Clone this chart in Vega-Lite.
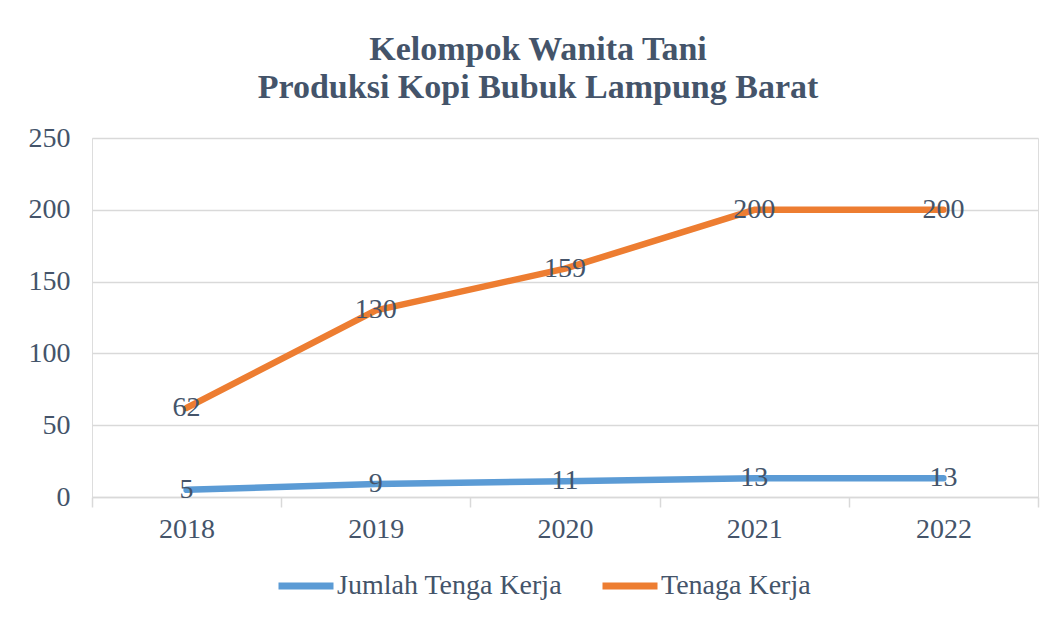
{
  "$schema": "https://vega.github.io/schema/vega-lite/v6.json",
  "width": 946,
  "height": 359,
  "autosize": "none",
  "padding": {"left": 92, "top": 138, "right": 20, "bottom": 122},
  "background": "white",
  "title": {
    "text": ["Kelompok Wanita Tani", "Produksi Kopi Bubuk Lampung Barat"],
    "font": "Liberation Serif",
    "fontSize": 34,
    "fontWeight": "bold",
    "color": "#44546A",
    "anchor": "middle",
    "dx": -27,
    "offset": 19,
    "lineHeight": 38
  },
  "data": {
    "values": [
      {"year": "2018", "series": "Jumlah Tenga Kerja", "value": 5},
      {"year": "2019", "series": "Jumlah Tenga Kerja", "value": 9},
      {"year": "2020", "series": "Jumlah Tenga Kerja", "value": 11},
      {"year": "2021", "series": "Jumlah Tenga Kerja", "value": 13},
      {"year": "2022", "series": "Jumlah Tenga Kerja", "value": 13},
      {"year": "2018", "series": "Tenaga Kerja", "value": 62},
      {"year": "2019", "series": "Tenaga Kerja", "value": 130},
      {"year": "2020", "series": "Tenaga Kerja", "value": 159},
      {"year": "2021", "series": "Tenaga Kerja", "value": 200},
      {"year": "2022", "series": "Tenaga Kerja", "value": 200}
    ]
  },
  "encoding": {
    "x": {
      "field": "year",
      "type": "ordinal",
      "bandPosition": 0.5,
      "scale": {"type": "band", "paddingInner": 0, "paddingOuter": 0},
      "axis": {
        "title": null,
        "labelAngle": 0,
        "domainColor": "#D9D9D9",
        "domainWidth": 1.5,
        "tickColor": "#D9D9D9",
        "tickWidth": 1.5,
        "tickSize": 10,
        "tickBand": "extent",
        "grid": false,
        "labelFont": "Liberation Serif",
        "labelFontSize": 28,
        "labelColor": "#44546A",
        "labelPadding": 8
      }
    },
    "y": {
      "field": "value",
      "type": "quantitative",
      "scale": {"domain": [0, 250], "nice": false},
      "axis": {
        "title": null,
        "values": [0, 50, 100, 150, 200, 250],
        "domain": false,
        "ticks": false,
        "gridColor": "#D9D9D9",
        "gridWidth": 1.5,
        "labelFont": "Liberation Serif",
        "labelFontSize": 28,
        "labelColor": "#44546A",
        "labelPadding": 22
      }
    }
  },
  "layer": [
    {
      "mark": {"type": "line", "strokeWidth": 6.5, "strokeCap": "round", "strokeJoin": "round"},
      "encoding": {
        "color": {
          "field": "series",
          "type": "nominal",
          "scale": {"domain": ["Jumlah Tenga Kerja", "Tenaga Kerja"], "range": ["#5B9BD5", "#ED7D31"]},
          "legend": {
            "title": null,
            "orient": "none",
            "legendX": 183,
            "legendY": 417,
            "padding": 0,
            "direction": "horizontal",
            "symbolType": "stroke",
            "symbolSize": 3025,
            "symbolStrokeWidth": 7,
            "labelFont": "Liberation Serif",
            "labelFontSize": 28,
            "labelColor": "#44546A",
            "labelLimit": 0,
            "labelOffset": 0,
            "columnPadding": 25
          }
        }
      }
    },
    {
      "mark": {"type": "text", "font": "Liberation Serif", "fontSize": 28, "color": "#44546A", "baseline": "middle", "align": "center"},
      "encoding": {
        "text": {"field": "value", "type": "quantitative"}
      }
    }
  ]
}
